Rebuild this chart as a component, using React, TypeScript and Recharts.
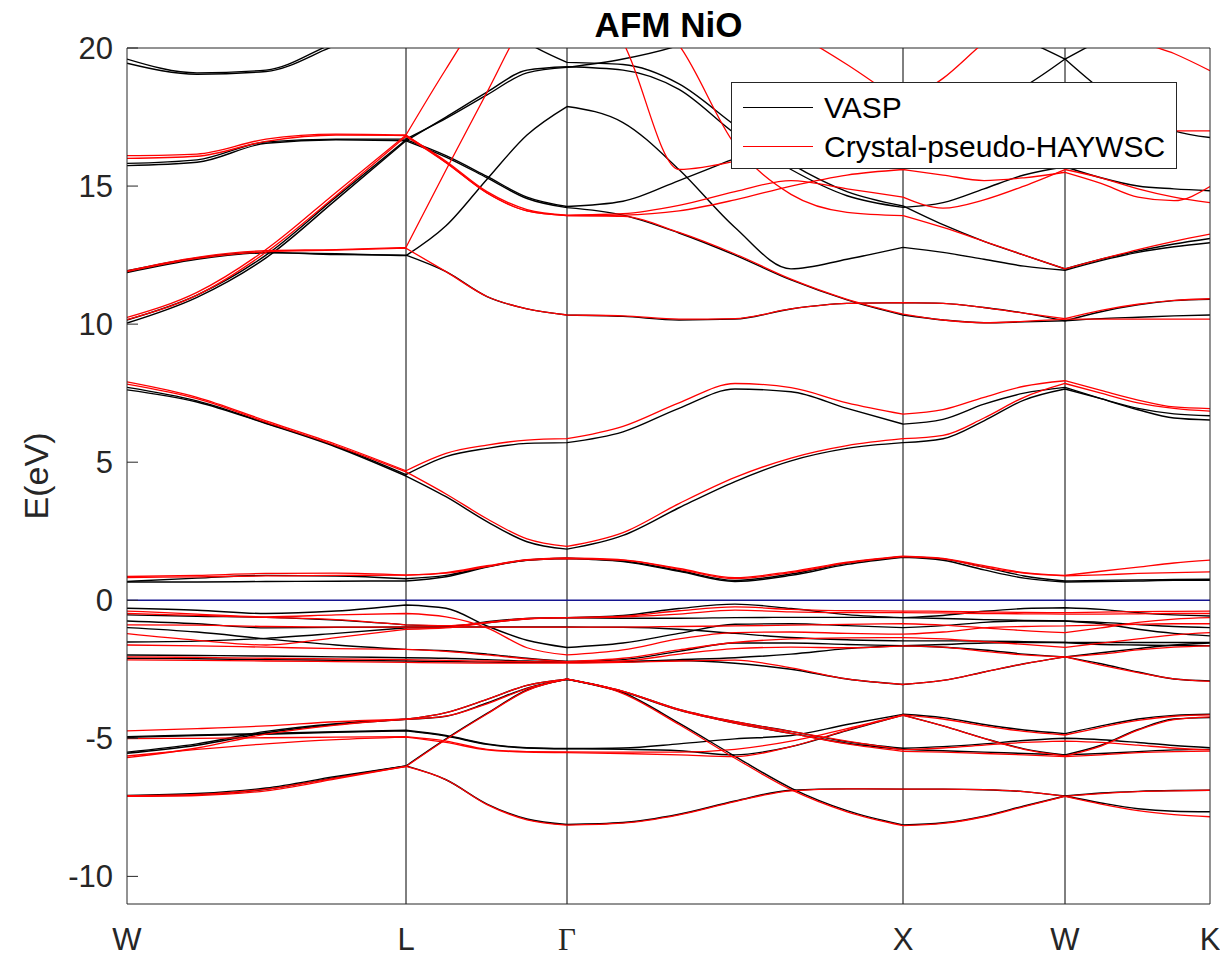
import React from 'react';
import { LineChart, Line, XAxis, YAxis, ReferenceLine, Legend } from 'recharts';

const FONT = '"Liberation Sans", Arial, Helvetica, sans-serif';

// k-path sample positions (W - L - Γ - X - W - K)
const kPoints = [0, 70, 139, 209, 279, 319, 360, 400, 440, 496, 552, 608, 664, 720, 776, 816, 857, 897, 938, 974, 1011, 1047, 1083];
const kTicks = [0, 279, 440, 776, 938, 1083];
const kLabels = ['W', 'L', 'Γ', 'X', 'W', 'K'];
const yTicks = [-10, -5, 0, 5, 10, 15, 20];
const symIdx = [4, 8, 14, 18];

// ---------- VASP (black) ----------
const vaspA = [-7.09, -7.04, -6.85, -6.42, -6.0, -6.5, -7.38, -7.92, -8.12, -8.05, -7.75, -7.27, -6.88, -6.83, -6.84, -6.84, -6.86, -6.93, -7.09, -6.98, -6.92, -6.89, -6.88];
const vaspB = [-7.07, -7.0, -6.8, -6.38, -6.0, -5.02, -4.1, -3.25, -2.86, -3.35, -4.45, -5.65, -6.8, -7.62, -8.14, -8.06, -7.82, -7.45, -7.09, -7.34, -7.55, -7.64, -7.66];
const vaspC = [-5.54, -5.25, -4.8, -4.5, -4.31, -4.07, -3.59, -3.08, -2.86, -3.3, -3.95, -4.4, -4.75, -5.12, -5.36, -5.3, -5.2, -5.08, -5.0, -5.05, -5.15, -5.26, -5.34];
const vaspC2 = [-5.5, -5.2, -4.75, -4.47, -4.31, -4.2, -3.72, -3.18, -2.86, -3.32, -3.98, -4.45, -4.82, -5.18, -5.4, -5.45, -5.5, -5.55, -5.6, -5.55, -5.48, -5.42, -5.4];
const vaspD = [-4.94, -4.88, -4.82, -4.76, -4.71, -4.9, -5.2, -5.34, -5.37, -5.35, -5.2, -5.02, -4.9, -4.5, -4.13, -4.25, -4.5, -4.7, -4.83, -4.55, -4.3, -4.17, -4.13];
const vaspD2 = [-4.97, -4.9, -4.85, -4.78, -4.73, -4.92, -5.22, -5.35, -5.38, -5.4, -5.45, -5.6, -5.3, -4.72, -4.16, -4.55, -5.0, -5.38, -5.6, -5.25, -4.68, -4.3, -4.25];
const vaspU1 = [-0.29, -0.36, -0.48, -0.39, -0.17, -0.29, -0.93, -1.45, -1.71, -1.55, -1.2, -0.87, -0.85, -0.92, -0.99, -0.92, -0.8, -0.75, -0.75, -0.8, -0.88, -0.95, -0.99];
const vaspU2 = [-0.53, -0.58, -0.62, -0.72, -0.89, -0.93, -0.82, -0.67, -0.63, -0.55, -0.3, -0.14, -0.3, -0.52, -0.63, -0.55, -0.4, -0.3, -0.27, -0.33, -0.45, -0.53, -0.57];
const vaspU3 = [-0.75, -0.85, -1.0, -0.98, -0.97, -0.97, -0.97, -0.97, -0.97, -0.98, -1.05, -1.2, -1.35, -1.43, -1.47, -1.47, -1.48, -1.5, -1.53, -1.53, -1.53, -1.53, -1.53];
const vaspU4 = [-0.99, -1.15, -1.4, -1.62, -1.78, -1.83, -1.95, -2.1, -2.22, -2.15, -1.85, -1.55, -1.55, -1.6, -1.65, -1.7, -1.8, -1.95, -2.05, -1.9, -1.75, -1.62, -1.55];
const vaspU5 = [-1.51, -1.48, -1.38, -1.2, -1.0, -0.98, -0.78, -0.66, -0.63, -0.65, -0.65, -0.63, -0.62, -0.62, -0.63, -0.66, -0.7, -0.73, -0.75, -0.85, -1.05, -1.2, -1.29];
const vaspU6 = [-1.98, -2.0, -2.02, -2.05, -2.08, -2.1, -2.15, -2.2, -2.22, -2.22, -2.15, -2.08, -1.95, -1.75, -1.65, -1.6, -1.55, -1.53, -1.53, -1.6, -1.62, -1.64, -1.65];
const vaspU7 = [-2.1, -2.12, -2.15, -2.17, -2.2, -2.22, -2.24, -2.25, -2.25, -2.23, -2.18, -2.28, -2.5, -2.85, -3.05, -2.9, -2.6, -2.3, -2.05, -2.3, -2.6, -2.85, -2.92];
const vaspE1 = [0.66, 0.66, 0.68, 0.69, 0.7, 0.85, 1.2, 1.45, 1.51, 1.4, 1.05, 0.68, 0.9, 1.3, 1.56, 1.45, 1.1, 0.8, 0.66, 0.68, 0.7, 0.72, 0.72];
const vaspE2 = [0.68, 0.8, 0.9, 0.88, 0.78, 0.9, 1.22, 1.46, 1.52, 1.42, 1.08, 0.72, 0.95, 1.35, 1.58, 1.5, 1.2, 0.88, 0.7, 0.72, 0.74, 0.75, 0.76];
const vaspP = [7.71, 7.22, 6.42, 5.58, 4.55, 5.2, 5.5, 5.68, 5.71, 6.1, 6.95, 7.65, 7.55, 6.95, 6.38, 6.55, 7.1, 7.5, 7.71, 7.3, 6.9, 6.6, 6.53];
const vaspQ = [7.62, 7.18, 6.4, 5.55, 4.5, 3.75, 2.85, 2.12, 1.85, 2.35, 3.35, 4.3, 5.05, 5.5, 5.71, 5.85, 6.5, 7.25, 7.65, 7.3, 6.95, 6.75, 6.68];
const vaspK1 = [10.04, 10.97, 12.4, 14.5, 16.64, 17.5, 18.4, 19.2, 19.32, 19.2, 18.5, 16.9, 15.6, 14.65, 14.23, 14.4, 14.9, 15.4, 15.7, 15.3, 15.0, 14.9, 14.83];
const vaspK2 = [10.15, 11.05, 12.5, 14.6, 16.68, 16.1, 15.35, 14.6, 14.26, 14.45, 15.2, 16.0, 16.8, 17.2, 17.3, 17.5, 17.9, 18.6, 19.6, 20.3, 21.0, 21.5, 22.0];
const vaspK3 = [11.87, 12.35, 12.58, 12.55, 12.48, 13.56, 15.25, 16.85, 17.88, 17.3, 15.6, 13.5, 12.0, 12.35, 12.78, 12.6, 12.35, 12.1, 11.95, 12.3, 12.6, 12.8, 12.95];
const vaspK4 = [11.93, 12.4, 12.6, 12.52, 12.5, 11.9, 11.0, 10.55, 10.33, 10.28, 10.15, 10.18, 10.55, 10.75, 10.78, 10.75, 10.6, 10.4, 10.12, 10.45, 10.7, 10.85, 10.9];
const vaspK5 = [19.6, 19.1, 19.2, 20.2, 21.0, 21.5, 21.3, 20.2, 19.48, 19.4, 18.7, 17.2, 15.8, 14.8, 14.28, 13.6, 13.0, 12.5, 12.0, 12.35, 12.65, 12.9, 13.1];
const vaspK6 = [15.74, 15.86, 16.55, 16.68, 16.64, 16.05, 15.3, 14.55, 14.22, 13.95, 13.3, 12.5, 11.6, 10.88, 10.33, 10.15, 10.05, 10.08, 10.12, 10.2, 10.25, 10.3, 10.33];
const vaspK7 = [15.82, 15.95, 16.6, 16.7, 16.7, 17.45, 18.3, 19.1, 19.3, 19.6, 20.1, 21.0, 21.5, 21.6, 21.5, 21.3, 20.9, 20.3, 19.6, 18.5, 17.6, 17.0, 16.76];
const vaspK8 = [19.45, 19.05, 19.15, 20.1, 21.0, 22.0, 22.0, 22.0, 22.0, 22.0, 22.0, 22.0, 22.0, 22.0, 22.0, 22.0, 22.0, 22.0, 22.0, 22.0, 22.0, 22.0, 22.0];

// ---------- Crystal-pseudo-HAYWSC (red) ----------
const crysA = [-7.1, -7.07, -6.9, -6.47, -6.02, -6.5, -7.4, -7.95, -8.14, -8.07, -7.77, -7.29, -6.9, -6.83, -6.84, -6.84, -6.86, -6.93, -7.1, -7.0, -6.93, -6.9, -6.88];
const crysB = [-7.08, -7.03, -6.84, -6.43, -6.02, -5.04, -4.12, -3.27, -2.86, -3.38, -4.5, -5.72, -6.86, -7.66, -8.16, -8.08, -7.84, -7.47, -7.1, -7.38, -7.62, -7.76, -7.84];
const crysC = [-5.7, -5.35, -4.85, -4.52, -4.31, -4.07, -3.59, -3.08, -2.86, -3.3, -3.98, -4.45, -4.82, -5.2, -5.47, -5.5, -5.55, -5.6, -5.66, -5.6, -5.52, -5.48, -5.46];
const crysC2 = [-4.73, -4.65, -4.55, -4.4, -4.31, -4.2, -3.75, -3.2, -2.86, -3.3, -3.95, -4.4, -4.75, -5.1, -5.42, -5.35, -5.25, -5.15, -5.1, -5.15, -5.25, -5.35, -5.42];
const crysD = [-5.01, -5.0, -4.98, -4.96, -4.94, -5.1, -5.4, -5.48, -5.49, -5.5, -5.5, -5.4, -5.1, -4.65, -4.15, -4.3, -4.55, -4.75, -4.88, -4.6, -4.35, -4.2, -4.15];
const crysD2 = [-5.64, -5.4, -5.2, -5.05, -4.96, -5.15, -5.42, -5.5, -5.52, -5.55, -5.6, -5.66, -5.3, -4.7, -4.17, -4.55, -5.0, -5.4, -5.64, -5.28, -4.7, -4.32, -4.22];
const crysU1 = [-0.39, -0.5, -0.6, -0.53, -0.48, -0.6, -1.0, -1.72, -1.98, -1.8, -1.4, -1.17, -1.15, -1.2, -1.23, -1.15, -1.0, -0.95, -0.93, -0.9, -0.87, -0.85, -0.85];
const crysU2 = [-0.48, -0.55, -0.62, -0.7, -0.89, -0.92, -0.8, -0.66, -0.63, -0.58, -0.38, -0.24, -0.33, -0.38, -0.39, -0.4, -0.42, -0.44, -0.45, -0.43, -0.41, -0.4, -0.39];
const crysU3 = [-0.89, -0.9, -0.95, -0.97, -0.97, -0.97, -0.97, -0.97, -0.97, -0.97, -0.95, -0.93, -0.9, -0.87, -0.85, -0.9, -1.0, -1.1, -1.17, -1.0, -0.8, -0.68, -0.63];
const crysU4 = [-1.21, -1.45, -1.62, -1.35, -1.05, -1.0, -0.82, -0.68, -0.63, -0.6, -0.5, -0.36, -0.42, -0.45, -0.45, -0.46, -0.48, -0.49, -0.5, -0.5, -0.49, -0.48, -0.48];
const crysU5 = [-1.62, -1.65, -1.7, -1.75, -1.78, -1.85, -1.98, -2.12, -2.22, -2.1, -1.8, -1.53, -1.4, -1.36, -1.35, -1.4, -1.5, -1.6, -1.71, -1.55, -1.4, -1.25, -1.17];
const crysU6 = [-2.05, -2.07, -2.1, -2.12, -2.15, -2.18, -2.2, -2.22, -2.24, -2.2, -1.95, -1.75, -1.7, -1.72, -1.65, -1.7, -1.85, -1.98, -2.05, -1.95, -1.8, -1.7, -1.65];
const crysU7 = [-2.16, -2.18, -2.2, -2.22, -2.25, -2.27, -2.28, -2.28, -2.28, -2.25, -2.2, -2.17, -2.45, -2.85, -3.05, -2.9, -2.6, -2.3, -2.05, -2.35, -2.62, -2.85, -2.94];
const crysE1 = [0.86, 0.9, 0.97, 0.98, 0.91, 0.98, 1.22, 1.45, 1.51, 1.45, 1.12, 0.78, 1.0, 1.35, 1.58, 1.5, 1.2, 0.98, 0.88, 0.92, 0.97, 1.0, 1.03];
const crysE2 = [0.82, 0.85, 0.88, 0.9, 0.91, 1.0, 1.25, 1.47, 1.53, 1.46, 1.15, 0.82, 1.04, 1.38, 1.6, 1.52, 1.25, 1.0, 0.9, 1.05, 1.2, 1.35, 1.45];
const crysP = [7.91, 7.35, 6.5, 5.65, 4.69, 5.32, 5.62, 5.8, 5.85, 6.3, 7.15, 7.85, 7.7, 7.15, 6.74, 6.9, 7.35, 7.75, 7.95, 7.6, 7.25, 7.0, 6.94];
const crysQ = [7.83, 7.3, 6.45, 5.6, 4.65, 3.85, 2.95, 2.22, 1.95, 2.45, 3.5, 4.45, 5.15, 5.6, 5.85, 5.97, 6.6, 7.35, 7.85, 7.5, 7.15, 6.95, 6.85];
const crysK1 = [10.24, 11.15, 12.7, 14.77, 16.85, 19.24, 21.5, 23.0, 24.0, 21.9, 20.1, 16.5, 14.7, 14.05, 13.93, 13.5, 13.0, 12.5, 12.0, 12.35, 12.7, 13.0, 13.26];
const crysK2 = [10.16, 11.05, 12.6, 14.65, 16.8, 15.85, 14.75, 14.1, 13.93, 13.9, 13.32, 12.54, 11.63, 10.9, 10.36, 10.15, 10.05, 10.1, 10.18, 10.18, 10.18, 10.18, 10.18];
const crysK3 = [11.93, 12.42, 12.66, 12.7, 12.78, 15.58, 18.4, 21.1, 22.5, 20.2, 15.6, 15.9, 16.5, 17.0, 17.2, 17.3, 17.4, 17.5, 17.5, 17.3, 17.1, 17.0, 17.0];
const crysK4 = [11.9, 12.38, 12.62, 12.68, 12.75, 11.9, 11.0, 10.55, 10.33, 10.3, 10.18, 10.2, 10.55, 10.75, 10.78, 10.75, 10.6, 10.4, 10.2, 10.5, 10.72, 10.86, 10.92];
const crysK5 = [22.0, 22.0, 22.0, 22.0, 22.0, 22.0, 22.0, 22.0, 22.0, 22.0, 22.0, 21.5, 20.6, 19.4, 18.0, 18.9, 20.2, 21.3, 22.0, 21.4, 20.3, 19.8, 19.18];
const crysK6 = [16.1, 16.16, 16.7, 16.88, 16.85, 15.85, 14.75, 14.1, 13.93, 13.95, 14.1, 14.5, 15.0, 15.4, 15.6, 15.4, 15.2, 15.3, 15.5, 15.1, 14.6, 14.47, 14.98];
const crysK7 = [16.0, 16.08, 16.62, 16.85, 16.83, 15.9, 14.8, 14.15, 13.95, 14.0, 14.3, 14.8, 15.2, 14.9, 14.6, 14.2, 14.5, 15.0, 15.6, 15.3, 14.9, 14.6, 14.4];

const vaspBands = [vaspA, vaspB, vaspC, vaspC2, vaspD, vaspD2, vaspU1, vaspU2, vaspU3, vaspU4, vaspU5, vaspU6, vaspU7, vaspE1, vaspE2, vaspP, vaspQ, vaspK1, vaspK2, vaspK3, vaspK4, vaspK5, vaspK6, vaspK7, vaspK8];
const crysBands = [crysA, crysB, crysC, crysC2, crysD, crysD2, crysU1, crysU2, crysU3, crysU4, crysU5, crysU6, crysU7, crysE1, crysE2, crysP, crysQ, crysK1, crysK2, crysK3, crysK4, crysK5, crysK6, crysK7];

// split each band at the high-symmetry points so every segment is interpolated on its own
function toSeries(band: number[]) {
  const out: { k: number; e: number | null }[] = [];
  band.forEach((e, i) => {
    out.push({ k: kPoints[i], e });
    if (symIdx.includes(i)) {
      out.push({ k: kPoints[i], e: null });
      out.push({ k: kPoints[i], e });
    }
  });
  return out;
}

const XTick = (props: any) => {
  const { x, y, payload } = props;
  const idx = kTicks.indexOf(payload.value);
  const label = idx >= 0 ? kLabels[idx] : '';
  const serif = label === 'Γ';
  return (
    <text
      x={x}
      y={y}
      dy="0.71em"
      textAnchor="middle"
      fontSize={31}
      fontFamily={serif ? '"Liberation Serif", "DejaVu Serif", serif' : FONT}
      fill="#262626"
    >
      {label}
    </text>
  );
};

const LegendBox = () => (
  <div
    style={{
      position: 'relative',
      width: 446,
      height: 87,
      boxSizing: 'border-box',
      border: '1px solid #262626',
      background: '#ffffff',
      fontFamily: FONT,
      fontSize: 30,
      color: '#000',
    }}
  >
    <div style={{ position: 'absolute', left: 11, top: 24, width: 70, height: 0, borderTop: '1.4px solid #000' }} />
    <span style={{ position: 'absolute', left: 92, top: 25, transform: 'translateY(-50%)', lineHeight: 1, whiteSpace: 'nowrap' }}>VASP</span>
    <div style={{ position: 'absolute', left: 11, top: 63, width: 70, height: 0, borderTop: '1.4px solid #ff0000' }} />
    <span style={{ position: 'absolute', left: 92, top: 64, transform: 'translateY(-50%)', lineHeight: 1, whiteSpace: 'nowrap' }}>Crystal-pseudo-HAYWSC</span>
  </div>
);

export default function App() {
  const W = 1212;
  const H = 949;
  return (
    <div style={{ position: 'relative', width: W, height: H, background: '#fff' }}>
      <LineChart width={W} height={H} margin={{ top: 40, right: 0, bottom: 0, left: 0 }}>
        <XAxis
          type="number"
          dataKey="k"
          domain={[0, 1083]}
          ticks={kTicks}
          interval={0}
          tick={(p: any) => <XTick {...p} />}
          tickLine={false}
          tickSize={0}
          tickMargin={24}
          height={53}
          stroke="#262626"
          allowDataOverflow
        />
        <YAxis
          type="number"
          domain={[-11, 20]}
          ticks={yTicks}
          interval={0}
          width={119}
          tickSize={-11}
          tickMargin={25}
          stroke="#262626"
          tick={{ fontSize: 31, fill: '#262626', fontFamily: FONT }}
          allowDataOverflow
        />
        <YAxis
          yAxisId="right"
          orientation="right"
          type="number"
          domain={[-11, 20]}
          ticks={yTicks}
          interval={0}
          width={10}
          tickSize={-11}
          tick={false}
          stroke="#262626"
          allowDataOverflow
        />
        {kTicks.slice(1, 5).map((k) => (
          <ReferenceLine key={'v' + k} x={k} stroke="#000" strokeWidth={1} ifOverflow="hidden" />
        ))}
        <ReferenceLine y={20} stroke="#262626" strokeWidth={1} />
        <ReferenceLine y={0} stroke="#14148f" strokeWidth={1.6} />
        {vaspBands.map((b, i) => (
          <Line
            key={'v' + i}
            data={toSeries(b)}
            dataKey="e"
            type="monotone"
            stroke="#000000"
            strokeWidth={1.4}
            dot={false}
            activeDot={false}
            legendType="none"
            isAnimationActive={false}
          />
        ))}
        {crysBands.map((b, i) => (
          <Line
            key={'c' + i}
            data={toSeries(b)}
            dataKey="e"
            type="monotone"
            stroke="#ff0000"
            strokeWidth={1.3}
            dot={false}
            activeDot={false}
            legendType="none"
            isAnimationActive={false}
          />
        ))}
        <Legend
          layout="vertical"
          verticalAlign="middle"
          align="center"
          content={() => <LegendBox />}
          wrapperStyle={{ left: 723, top: 74, width: 446, height: 87, margin: 0, padding: 0 }}
        />
      </LineChart>
      <svg
        width={W + 8}
        height={H + 8}
        style={{ position: 'absolute', left: -8, top: -8, pointerEvents: 'none' }}
      >
        <text x={668.5} y={37} textAnchor="middle" fontSize={35} fontWeight="bold" fontFamily={FONT} fill="#000">
          AFM NiO
        </text>
        <text
          x={36}
          y={476}
          transform="rotate(-90, 36, 476)"
          textAnchor="middle"
          dominantBaseline="central"
          fontSize={34}
          fontFamily={FONT}
          fill="#262626"
        >
          E(eV)
        </text>
      </svg>
    </div>
  );
}
